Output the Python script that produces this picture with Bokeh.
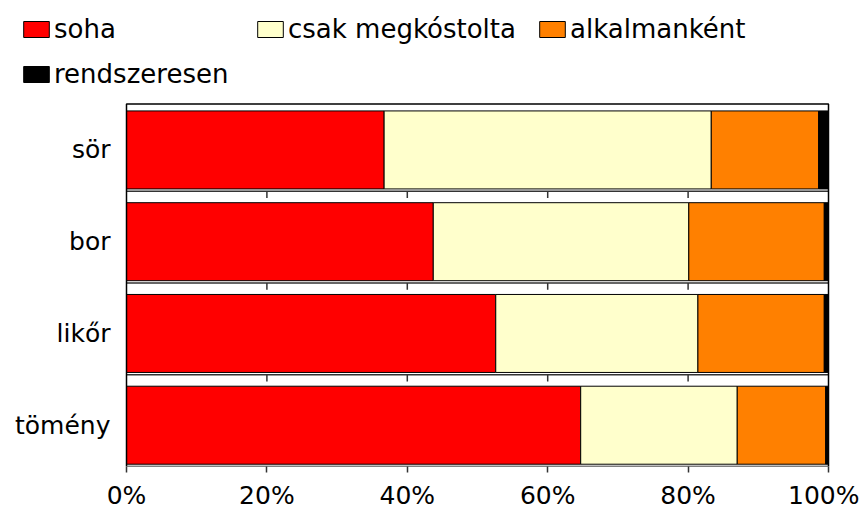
from bokeh.plotting import figure
from bokeh.models import ColumnDataSource, Range1d, FixedTicker, Legend, LegendItem
from bokeh.embed import file_html
from bokeh.resources import INLINE

# ---- data ----
categories = ["sör", "bor", "likőr", "tömény"]
series = ["soha", "csak megkóstolta", "alkalmanként", "rendszeresen"]
soha = [36.7, 43.7, 52.6, 64.7]
csak_megkostolta = [46.6, 36.4, 28.8, 22.3]
alkalmankent = [15.3, 19.3, 18.0, 12.6]
rendszeresen = [1.4, 0.6, 0.6, 0.4]
x_ticks = [0, 20, 40, 60, 80, 100]
x_tick_labels = ["0%", "20%", "40%", "60%", "80%", "100%"]
colors = ["#FF0000", "#FFFFCC", "#FF8000", "#000000"]

FONT = "DejaVu Sans"
n = len(categories)
ypos = [n - 1 - i for i in range(n)]
keys = ["s0", "s1", "s2", "s3"]
src = ColumnDataSource(dict(y=ypos, s0=soha, s1=csak_megkostolta, s2=alkalmankent, s3=rendszeresen))

# ---- layout geometry (pixels) ----
W, H = 859, 512
BOTTOM = 44
PLOT_L, PLOT_R, PLOT_T = 126, 828, 104        # plot area box inside the full-width frame
PLOT_B = 468
x_lo, x_hi = x_ticks[0], x_ticks[-1]
y_lo, y_hi = -0.45, n - 0.5
ppx = (PLOT_R - PLOT_L) / (x_hi - x_lo)
ppy = (PLOT_B - PLOT_T) / (y_hi - y_lo)
x_range = Range1d(x_lo - PLOT_L / ppx, x_hi + (W - PLOT_R) / ppx)
y_range = Range1d(y_lo - (H - BOTTOM - PLOT_B) / ppy, y_hi + PLOT_T / ppy)

p = figure(width=W, height=H, x_range=x_range, y_range=y_range,
           output_backend="svg", toolbar_location=None,
           min_border_left=0, min_border_right=0, min_border_top=0, min_border_bottom=BOTTOM)
p.outline_line_color = None
p.xgrid.visible = False
p.ygrid.visible = False

bars = p.hbar_stack(keys, y="y", height=0.85, fill_color=colors, line_color="black",
                    line_width=1, source=src)

# separator lines with small ticks between categories (Excel style)
sep_y = [y - 0.45 for y in ypos if y > 0]
p.segment(x0=[x_lo] * len(sep_y), x1=[x_hi] * len(sep_y), y0=sep_y, y1=sep_y,
          line_color="#333333", line_width=1.5)
tx, ty0, ty1 = [], [], []
for s in sep_y:
    for t in x_ticks[1:-1]:
        tx.append(t); ty0.append(s); ty1.append(s - 0.075)
p.segment(x0=tx, x1=tx, y0=ty0, y1=ty1, line_color="#333333", line_width=1.5)

# plot-area box
p.quad(left=[x_lo], right=[x_hi], bottom=[y_lo], top=[y_hi], fill_color=None,
       line_color="black", line_width=1.5)

# x axis (drawn at the bottom of the frame, which coincides with the plot box bottom)
p.xaxis.ticker = FixedTicker(ticks=x_ticks)
p.xaxis.major_label_overrides = {t: l for t, l in zip(x_ticks, x_tick_labels)}
p.xaxis.major_label_text_font = FONT
p.xaxis.major_label_text_font_size = "25px"
p.xaxis.major_label_text_color = "black"
p.xaxis.major_tick_out = 6
p.xaxis.major_tick_in = 0
p.xaxis.major_tick_line_color = "#333333"
p.xaxis.major_tick_line_width = 1.5
p.xaxis.minor_tick_line_color = None
p.xaxis.axis_line_color = None
p.xaxis.major_label_standoff = 8

# y axis, pinned at x = 0
p.yaxis.fixed_location = x_lo
p.yaxis.ticker = FixedTicker(ticks=ypos)
p.yaxis.major_label_overrides = {y: c for y, c in zip(ypos, categories)}
p.yaxis.major_label_text_font = FONT
p.yaxis.major_label_text_font_size = "25px"
p.yaxis.major_label_text_color = "black"
p.yaxis.major_tick_line_color = None
p.yaxis.minor_tick_line_color = None
p.yaxis.major_tick_out = 0
p.yaxis.major_tick_in = 0
p.yaxis.major_label_standoff = 16
p.yaxis.axis_line_color = None

# ---- legend: free Excel-like layout above the plot area ----
legend_locs = [(20, 422), (254, 422), (536, 422), (20, 377)]
for name, r, loc in zip(series, bars, legend_locs):
    lg = Legend(items=[LegendItem(label=name, renderers=[r])], location=loc,
                glyph_width=32, glyph_height=20, label_standoff=2,
                label_text_font=FONT, label_text_font_size="26px", label_text_color="black",
                padding=0, margin=0, spacing=0, border_line_color=None,
                background_fill_alpha=0)
    p.add_layout(lg)

open("out.html", "w").write(file_html(p, INLINE))
